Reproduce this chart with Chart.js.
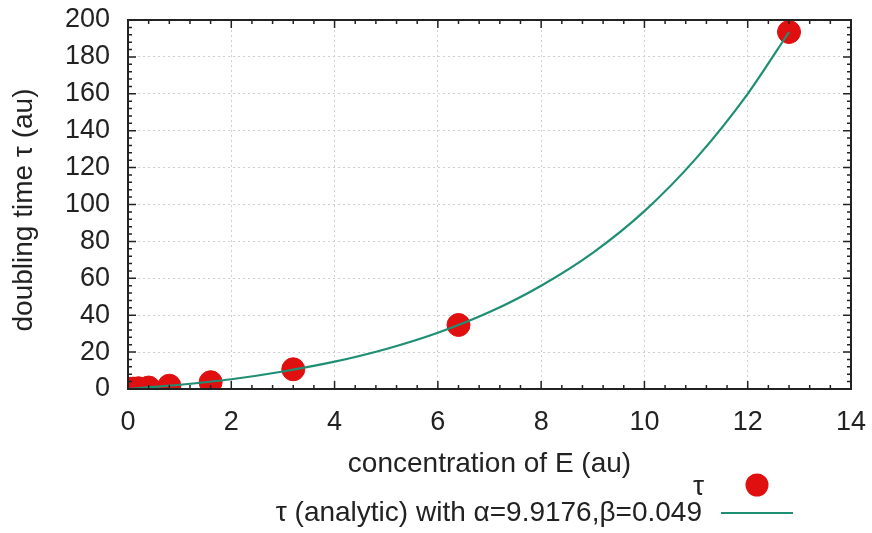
<!DOCTYPE html>
<html>
<head>
<meta charset="utf-8">
<script src="https://cdn.jsdelivr.net/npm/chart.js@4.4.1/dist/chart.umd.min.js"></script>
<style>
  html, body { margin: 0; padding: 0; background: #fff; }
  #wrap { width: 872px; height: 533px; }
</style>
</head>
<body>
<div id="wrap"><canvas id="myChart" width="872" height="533"></canvas></div>
<script>
// measured doubling times
const concentration = [0.05, 0.1, 0.2, 0.4, 0.8, 1.6, 3.2, 6.4, 12.8];
const tau = [0.1, 0.2, 0.4, 0.8, 1.8, 3.7, 10.7, 34.7, 193.5];

// analytic curve, sampled
const curveX = [0, 0.5, 1, 2, 3, 4, 5, 6, 7, 8, 9, 10, 11, 12, 12.8];
const curveTau = [0, 1.1, 2.3, 5.3, 9.5, 14.8, 21.7, 30.5, 41.7, 56, 73.8, 96.4, 125, 160, 193.5];

const xTicks = [0, 2, 4, 6, 8, 10, 12, 14];
const yTicks = [0, 20, 40, 60, 80, 100, 120, 140, 160, 180, 200];

const pointLabel = "τ";
const curveLabel = "τ (analytic) with α=9.9176,β=0.049";
const xTitle = "concentration of E (au)";
const yTitle = "doubling time τ (au)";

const FONT = "'Liberation Sans', Arial, sans-serif";
const INK = "#222";

// box, inward ticks, axis titles and the legend, gnuplot style
const frame = {
  id: "frame",
  afterDatasetsDraw(chart) {
    const { ctx, chartArea: a, scales: { x, y } } = chart;
    ctx.save();
    ctx.strokeStyle = INK;
    ctx.lineWidth = 1.5;
    ctx.beginPath();
    for (let v = 0; v <= 14.001; v += 0.4) {
      const px = x.getPixelForValue(v);
      const major = Math.abs(v / 2 - Math.round(v / 2)) < 0.01;
      const len = major ? 8 : 4;
      ctx.moveTo(px, a.bottom); ctx.lineTo(px, a.bottom - len);
      ctx.moveTo(px, a.top); ctx.lineTo(px, a.top + len);
    }
    for (let v = 0; v <= 200; v += 4) {
      const py = y.getPixelForValue(v);
      const len = v % 20 === 0 ? 8 : 4;
      ctx.moveTo(a.left, py); ctx.lineTo(a.left + len, py);
      ctx.moveTo(a.right, py); ctx.lineTo(a.right - len, py);
    }
    ctx.stroke();
    ctx.lineWidth = 2;
    ctx.strokeRect(a.left, a.top, a.right - a.left, a.bottom - a.top);
    ctx.restore();
  },
  afterDraw(chart) {
    const { ctx, chartArea: a } = chart;
    const ds = chart.data.datasets;
    ctx.save();
    ctx.fillStyle = INK;
    ctx.font = "28px " + FONT;
    ctx.textBaseline = "middle";
    ctx.textAlign = "center";
    ctx.fillText(xTitle, (a.left + a.right) / 2, 464);
    ctx.save();
    ctx.translate(24, 210);
    ctx.rotate(-Math.PI / 2);
    ctx.fillText(yTitle, 0, 0);
    ctx.restore();

    // legend
    ctx.textAlign = "right";
    ctx.fillText(ds[0].label, 704, 487);
    ctx.fillText(ds[1].label, 702, 513);
    ctx.beginPath();
    ctx.arc(757, 485, ds[0].pointRadius, 0, Math.PI * 2);
    ctx.fillStyle = ds[0].backgroundColor;
    ctx.fill();
    ctx.beginPath();
    ctx.moveTo(721, 513);
    ctx.lineTo(793, 513);
    ctx.strokeStyle = ds[1].borderColor;
    ctx.lineWidth = ds[1].borderWidth;
    ctx.stroke();
    ctx.restore();
  }
};

new Chart(document.getElementById("myChart"), {
  type: "scatter",
  data: {
    datasets: [
      {
        label: pointLabel,
        data: concentration.map((c, i) => ({ x: c, y: tau[i] })),
        backgroundColor: "#e01010",
        borderColor: "#e01010",
        pointRadius: 11.5,
        pointHoverRadius: 11.5,
        order: 2
      },
      {
        type: "line",
        label: curveLabel,
        data: curveX.map((c, i) => ({ x: c, y: curveTau[i] })),
        borderColor: "#1f8f74",
        borderWidth: 2.2,
        pointRadius: 0,
        cubicInterpolationMode: "monotone",
        fill: false,
        order: 1
      }
    ]
  },
  options: {
    responsive: false,
    animation: false,
    layout: { padding: { top: 20, right: 21, left: 0, bottom: 0 } },
    plugins: { legend: { display: false }, tooltip: { enabled: false } },
    scales: {
      x: {
        type: "linear",
        min: 0,
        max: 14,
        afterBuildTicks: s => { s.ticks = xTicks.map(v => ({ value: v })); },
        afterFit: s => { s.height = 144; s.paddingLeft = 0; s.paddingRight = 0; },
        ticks: { color: INK, font: { size: 27, family: FONT }, padding: 17, maxRotation: 0 },
        grid: { color: "#d0d0d0", lineWidth: 1, drawTicks: false },
        border: { display: false, dash: [2, 3] }
      },
      y: {
        min: 0,
        max: 200,
        afterBuildTicks: s => { s.ticks = yTicks.map(v => ({ value: v })); },
        afterFit: s => { s.width = 128; s.paddingTop = 0; s.paddingBottom = 0; },
        ticks: { color: INK, font: { size: 27, family: FONT }, padding: 18 },
        grid: { color: "#d0d0d0", lineWidth: 1, drawTicks: false },
        border: { display: false, dash: [2, 3] }
      }
    }
  },
  plugins: [frame]
});
</script>
</body>
</html>
